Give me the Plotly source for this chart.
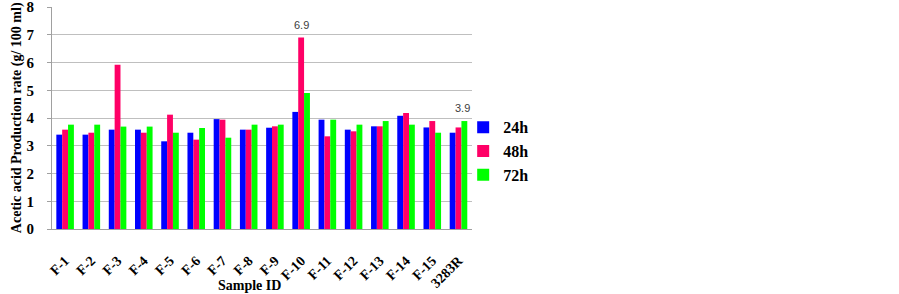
import plotly.graph_objects as go

samples = ["F-1", "F-2", "F-3", "F-4", "F-5", "F-6", "F-7", "F-8", "F-9", "F-10",
           "F-11", "F-12", "F-13", "F-14", "F-15", "3283R"]
h24 = [3.40, 3.40, 3.58, 3.58, 3.16, 3.47, 3.96, 3.58, 3.65, 4.22,
       3.94, 3.58, 3.70, 4.08, 3.66, 3.47]
h48 = [3.58, 3.47, 5.92, 3.47, 4.12, 3.22, 3.94, 3.58, 3.70, 6.90,
       3.34, 3.52, 3.70, 4.18, 3.89, 3.66]
h72 = [3.76, 3.76, 3.69, 3.69, 3.47, 3.64, 3.29, 3.76, 3.76, 4.90,
       3.94, 3.76, 3.89, 3.76, 3.47, 3.89]
series_names = ["24h", "48h", "72h"]
colors = ["#0000ff", "#ff0066", "#00ff00"]
# data labels shown in the reference: (sample, series values, horizontal offset of that bar)
labelled = [("F-10", h48, 0), ("3283R", h72, 4)]
yticks = [0, 1, 2, 3, 4, 5, 6, 7, 8]

serif = "Liberation Serif, Times New Roman, serif"

fig = go.Figure()
for name, vals, col in zip(series_names, [h24, h48, h72], colors):
    fig.add_trace(go.Bar(
        x=samples, y=vals, name=name, marker=dict(color=col, line=dict(width=0)),
    ))

annots = []
for s, vals, dx in labelled:
    v = vals[samples.index(s)]
    annots.append(dict(x=s, y=v, text=f"{v:.1f}", showarrow=False, xshift=dx, yshift=13,
                       yanchor="middle",
                       font=dict(family="Liberation Sans, Arial, sans-serif", size=11, color="#404040")))

annots += [
    dict(text="Acetic acid Production rate (g/ 100 ml)", textangle=-90,
         xref="paper", yref="paper", x=-0.083, y=0.5, xanchor="center", yanchor="middle",
         showarrow=False, font=dict(family=serif, size=14, color="black", weight="bold")),
    dict(text="Sample ID", xref="paper", yref="paper", x=0.47, y=-0.255,
         xanchor="center", yanchor="middle", showarrow=False,
         font=dict(family=serif, size=14, color="black", weight="bold")),
]

fig.update_layout(
    width=899, height=294,
    margin=dict(l=52, r=427, t=7, b=65, autoexpand=False),
    paper_bgcolor="white", plot_bgcolor="white",
    barmode="group", bargap=0.33, bargroupgap=0,
    showlegend=True,
    legend=dict(x=0.979, y=0.35, xanchor="left", yanchor="middle",
                bgcolor="rgba(0,0,0,0)",
                font=dict(family=serif, size=16, color="black", weight="bold"),
                itemwidth=30, tracegroupgap=4),
    xaxis=dict(
        tickangle=-45, showline=True, linecolor="#a0a0a0", linewidth=1, automargin=False,
        tickfont=dict(family=serif, size=14, color="black", weight="bold"),
        ticks="", showgrid=False, ticklabelstandoff=17, ticklabelshift=0,
        ticklabeloverflow="allow",
    ),
    yaxis=dict(
        range=[0, 8], tickvals=yticks, showgrid=True, gridcolor="#bfbfbf", gridwidth=1,
        showline=True, linecolor="#a0a0a0", linewidth=1, zeroline=False, automargin=False,
        ticks="outside", ticklen=4, tickcolor="#a0a0a0", ticklabelstandoff=10,
        ticklabeloverflow="allow",
        tickfont=dict(family=serif, size=15, color="black", weight="bold"),
    ),
    annotations=annots,
)

fig.write_html("out.html", config={"displayModeBar": False},
               post_script="document.body.style.margin='0';")
